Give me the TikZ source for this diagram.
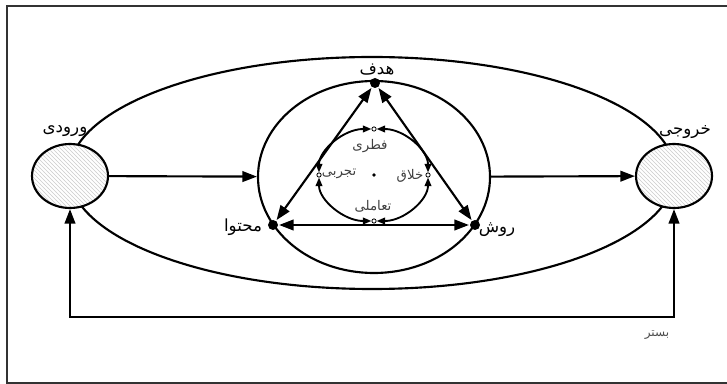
\documentclass[tikz,border=0pt]{standalone}
\usepackage{fontspec}
\newfontfamily\arabicfont[Script=Arabic]{DejaVu Sans}
\TeXXeTstate=1
\usetikzlibrary{shapes.geometric, arrows.meta, patterns}

\begin{document}
\begin{tikzpicture}[x=0.75pt, y=-0.75pt, line width=1.6pt, line cap=round,
    >={Triangle[length=11pt,width=8pt]},
    bigdot/.style={circle, fill=black, inner sep=0pt, minimum size=7.5pt},
    smalldot/.style={circle, draw, line width=0.6pt, fill=white, inner sep=0pt, minimum size=3.2pt},
    zone/.style={ellipse, draw, inner sep=0pt},
    port/.style={ellipse, draw, inner sep=0pt, minimum width=57pt, minimum height=48pt,
        preaction={fill=white}, pattern=north west lines, pattern color=gray!40},
    arr/.style={{Triangle[length=6.5pt,width=5pt]}-{Triangle[length=6.5pt,width=5pt]}, line width=1.4pt},
    lbl/.style={font=\fontsize{12.5}{14}\selectfont\arabicfont, inner sep=0pt},
    sublbl/.style={font=\fontsize{10}{12}\selectfont\arabicfont, inner sep=0pt, text=black!75}]
    \useasboundingbox (0,0) rectangle (727,384);
    % frame
    \draw[line width=2.2pt, black!80, line cap=butt] (727,6) -- (7,6) -- (7,383) -- (727,383);
    % outer zone
    \draw (372,173) ellipse [x radius=303, y radius=116];
    % input and output
    \node[port] (in) at (70,176) {};
    \node[port] (out) at (674,176) {};
    \node[lbl] (inlbl) at (65,131) {\beginR ورودی\endR};
    \node[lbl] (outlbl) at (685,132) {\beginR خروجی\endR};
    % middle zone
    \node[zone, minimum width=174pt, minimum height=144pt] (mid) at (374,177) {};
    \draw[->] (in) -- (mid);
    \draw[->] (mid) -- (out);
    % triangle
    \node[bigdot] (goal) at (375,83) {};
    \node[bigdot] (content) at (273,225) {};
    \node[bigdot] (method) at (475,225) {};
    \draw[<->] (goal) -- (content);
    \draw[<->] (goal) -- (method);
    \draw[<->] (content) -- (method);
    \node[lbl] (goallbl) at (377,70) {\beginR هدف\endR};
    \node[lbl] (contentlbl) at (243,227) {\beginR محتوا\endR};
    \node[lbl] (methodlbl) at (497,230) {\beginR روش\endR};
    % inner cycle
    \node[circle, fill=black, inner sep=0pt, minimum size=2.8pt] (core) at (374,175) {};
    \node[smalldot] (nat) at (374,129) {};
    \node[smalldot] (exp) at (319,175) {};
    \node[smalldot] (cre) at (428,175) {};
    \node[smalldot] (int) at (374,221) {};
    \draw[arr] (nat) .. controls (344,129) and (319,150) .. (exp);
    \draw[arr] (nat) .. controls (404,129) and (428,150) .. (cre);
    \draw[arr] (int) .. controls (344,221) and (319,200) .. (exp);
    \draw[arr] (int) .. controls (404,221) and (428,200) .. (cre);
    \node[sublbl] (natlbl) at (370,146) {\beginR فطری\endR};
    \node[sublbl] (explbl) at (339,174) {\beginR تجربی\endR};
    \node[sublbl] (crelbl) at (410,176) {\beginR خلاق\endR};
    \node[sublbl] (intlbl) at (373,206) {\beginR تعاملی\endR};
    % context feedback
    \coordinate (bl) at (70,317);
    \coordinate (br) at (674,317);
    \draw[<->, line cap=butt] (in) -- (bl) -- (br) -- (out);
    \node[font=\fontsize{9}{10}\selectfont\arabicfont, text=black!70, inner sep=0pt] (ctxlbl) at (657,335) {\beginR بستر\endR};
\end{tikzpicture}
\end{document}
